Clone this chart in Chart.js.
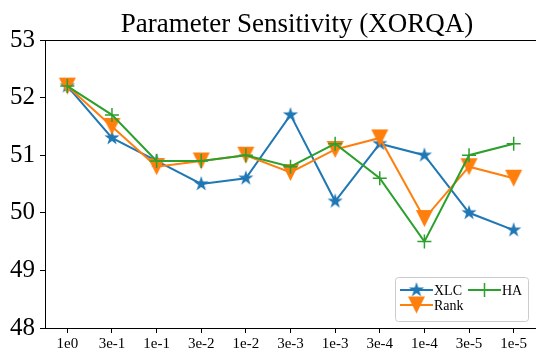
<!DOCTYPE html>
<html>
<head>
<meta charset="utf-8">
<script src="https://cdn.jsdelivr.net/npm/chart.js@4.4.1/dist/chart.umd.min.js"></script>
<style>
    html, body { margin: 0; padding: 0; background: #fff; }
</style>
</head>
<body>
<canvas id="chart" width="536" height="352"></canvas>
<script>
// Data
const categories = ['1e0', '3e-1', '1e-1', '3e-2', '1e-2', '3e-3', '1e-3', '3e-4', '1e-4', '3e-5', '1e-5'];
const xlcValues = [52.2, 51.3, 50.9, 50.5, 50.6, 51.7, 50.2, 51.2, 51.0, 50.0, 49.7];
const rankValues = [52.2, 51.5, 50.8, 50.9, 51.0, 50.7, 51.1, 51.3, 49.9, 50.8, 50.6];
const haValues = [52.2, 51.7, 50.9, 50.9, 51.0, 50.8, 51.2, 50.6, 49.5, 51.0, 51.2];
const yTicks = [48, 49, 50, 51, 52, 53];

const BLUE = '#1f77b4';
const ORANGE = '#ff7f0e';
const GREEN = '#2ca02c';
const SERIF = "'Liberation Serif', 'DejaVu Serif', serif";

// Marker images (filled star, downward triangle)
function makeStar(color, r) {
    const c = document.createElement('canvas');
    const s = Math.ceil(r * 2) + 2;
    c.width = s; c.height = s;
    const g = c.getContext('2d');
    g.fillStyle = color;
    g.beginPath();
    for (let i = 0; i < 10; i++) {
        const rad = i % 2 ? r * 0.382 : r;
        const a = -Math.PI / 2 + i * Math.PI / 5;
        g.lineTo(s / 2 + rad * Math.cos(a), s / 2 + rad * Math.sin(a));
    }
    g.closePath();
    g.fill();
    return c;
}

function makeTriangleDown(color, h) {
    const c = document.createElement('canvas');
    const s = Math.ceil(h * 2) + 2;
    c.width = s; c.height = s;
    const g = c.getContext('2d');
    g.fillStyle = color;
    g.beginPath();
    g.moveTo(s / 2 - h, s / 2 - h);
    g.lineTo(s / 2 + h, s / 2 - h);
    g.lineTo(s / 2, s / 2 + h);
    g.closePath();
    g.fill();
    return c;
}

const starImg = makeStar(BLUE, 8);
const triImg = makeTriangleDown(ORANGE, 8.5);

// Title, top spine and legend box
const decorations = {
    id: 'decorations',
    afterDraw(chart) {
        const ctx = chart.ctx;
        const area = chart.chartArea;
        ctx.save();
        ctx.fillStyle = '#000';
        ctx.font = '27px ' + SERIF;
        ctx.textAlign = 'center';
        ctx.textBaseline = 'alphabetic';
        ctx.fillText('Parameter Sensitivity (XORQA)', 297, 32);

        ctx.strokeStyle = '#000';
        ctx.lineWidth = 1;
        ctx.beginPath();
        ctx.moveTo(area.left, Math.round(area.top) + 0.5);
        ctx.lineTo(area.right, Math.round(area.top) + 0.5);
        ctx.stroke();

        // legend
        const bw = 133, bh = 44;
        const bx = area.right - 8 - bw;
        const by = area.bottom - 7 - bh;
        ctx.beginPath();
        ctx.roundRect(bx + 0.5, by + 0.5, bw, bh, 3);
        ctx.fillStyle = 'rgba(255,255,255,0.8)';
        ctx.fill();
        ctx.strokeStyle = '#cccccc';
        ctx.stroke();

        const entries = [
            { label: 'XLC', color: BLUE, marker: 'star', x: bx + 5, y: by + 13 },
            { label: 'HA', color: GREEN, marker: 'plus', x: bx + 73, y: by + 13 },
            { label: 'Rank', color: ORANGE, marker: 'tri', x: bx + 5, y: by + 28 }
        ];
        ctx.font = '14px ' + SERIF;
        ctx.textBaseline = 'middle';
        ctx.textAlign = 'left';
        entries.forEach(e => {
            ctx.strokeStyle = e.color;
            ctx.lineWidth = 2;
            ctx.beginPath();
            ctx.moveTo(e.x, e.y);
            ctx.lineTo(e.x + 33, e.y);
            ctx.stroke();
            const cx = e.x + 16.5;
            if (e.marker === 'star') {
                ctx.drawImage(starImg, cx - starImg.width / 2, e.y - starImg.height / 2);
            } else if (e.marker === 'tri') {
                ctx.drawImage(triImg, cx - triImg.width / 2, e.y - triImg.height / 2);
            } else {
                ctx.lineWidth = 1.5;
                ctx.beginPath();
                ctx.moveTo(cx - 7, e.y); ctx.lineTo(cx + 7, e.y);
                ctx.moveTo(cx, e.y - 7); ctx.lineTo(cx, e.y + 7);
                ctx.stroke();
            }
            ctx.fillStyle = '#000';
            ctx.fillText(e.label, e.x + 34, e.y + 1);
        });
        ctx.restore();
    }
};

const ctx = document.getElementById('chart').getContext('2d');
new Chart(ctx, {
    type: 'line',
    data: {
        labels: categories,
        datasets: [
            {
                label: 'XLC',
                data: xlcValues,
                borderColor: BLUE,
                backgroundColor: BLUE,
                borderWidth: 2,
                pointStyle: starImg,
                order: 3
            },
            {
                label: 'Rank',
                data: rankValues,
                borderColor: ORANGE,
                backgroundColor: ORANGE,
                borderWidth: 2,
                pointStyle: triImg,
                order: 2
            },
            {
                label: 'HA',
                data: haValues,
                borderColor: GREEN,
                backgroundColor: GREEN,
                borderWidth: 2,
                pointStyle: 'cross',
                pointRadius: 7,
                pointBorderWidth: 1.5,
                order: 1
            }
        ]
    },
    options: {
        responsive: false,
        animation: false,
        devicePixelRatio: 1,
        layout: { autoPadding: false, padding: { top: 40, left: 0, right: 0, bottom: 0 } },
        elements: { line: { tension: 0 } },
        plugins: {
            legend: { display: false },
            tooltip: { enabled: false },
            title: { display: false }
        },
        scales: {
            x: {
                type: 'category',
                offset: true,
                grid: { offset: false, drawOnChartArea: false, drawTicks: true, tickLength: 5, tickColor: '#000' },
                border: { color: '#000', width: 1 },
                ticks: { color: '#000', font: { family: SERIF, size: 15 }, padding: 2, maxRotation: 0, autoSkip: false },
                afterFit: s => { s.height = 24; s.paddingLeft = 0; s.paddingRight = 0; }
            },
            y: {
                min: 48,
                max: 53,
                afterBuildTicks: s => { s.ticks = yTicks.map(v => ({ value: v })); },
                grid: { drawOnChartArea: false, drawTicks: true, tickLength: 5, tickColor: '#000' },
                border: { color: '#000', width: 1 },
                ticks: { color: '#000', font: { family: SERIF, size: 25 }, padding: 5 },
                afterFit: s => { s.width = 45; s.paddingTop = 0; s.paddingBottom = 0; }
            }
        }
    },
    plugins: [decorations]
});
</script>
</body>
</html>
